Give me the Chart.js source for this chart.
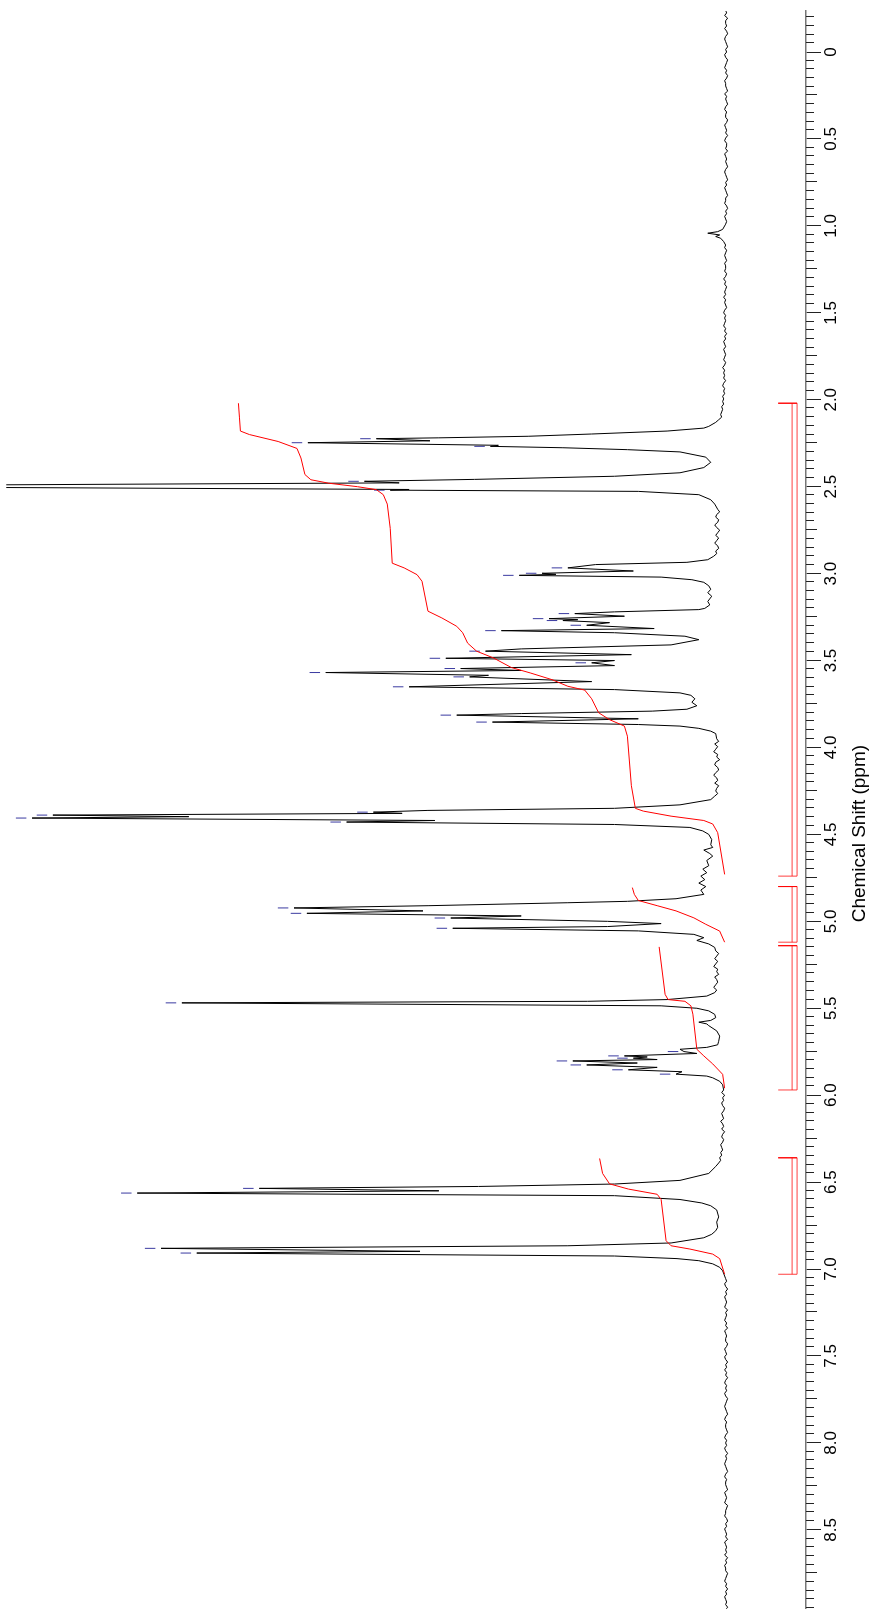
<!DOCTYPE html>
<html>
<head>
<meta charset="utf-8">
<script src="https://cdn.jsdelivr.net/npm/chart.js@4.4.1/dist/chart.umd.min.js"></script>
<style>
  html, body { margin: 0; padding: 0; background: #fff; overflow: hidden; }
  #wrap {
    position: absolute; left: 0; top: 0;
    width: 1615px; height: 873px;
    transform-origin: 0 0;
    transform: translate(0px, 1615px) rotate(-90deg);
  }
  #c { display: block; width: 1615px; height: 873px; }
</style>
</head>
<body>
<div id="wrap"><canvas id="c" width="1615" height="873"></canvas></div>
<script>
// ---- 1H NMR spectrum (DMSO-d6), intensity in plot units above baseline ----

// Axis labelling (ppm)
const majorTickValues = [0, 0.5, 1, 1.5, 2, 2.5, 3, 3.5, 4, 4.5, 5, 5.5, 6, 6.5, 7, 7.5, 8, 8.5];
const majorTickLabels = ["0", "0.5", "1.0", "1.5", "2.0", "2.5", "3.0", "3.5", "4.0", "4.5", "5.0", "5.5", "6.0", "6.5", "7.0", "7.5", "8.0", "8.5"];
const shiftMin = -0.236, shiftMax = 8.954;

// Baseline stretches sampled every 0.015 ppm
const noiseStep = 0.015;
const upfieldNoise = [1,0,2,-1,1,1,0,2,0,-1, 1,2,1,0,-1,1,0,2,1,-1, 0,1,2,0,1,-1,0,2,1,1, 0,-1,2,0,1,0,-1,1,2,0,
                      1,1,-1,0,2,1,0,1,-1,1, 2,0,0,1,-1,2,1,0,1,0, -1,1,2,1,0,-1,1,0,2,1, 0,-1,1,1,2,0,-1,1,0,2, 1,0,1];   // -0.24 .. 0.99
const preAliphaticNoise = [1,2,0,1,2,1,0,2,1,1, 2,0,1,3,1,2,0,1,2,1, 3,1,2,1,0,2,3,1,2,1, 2,3,1,2,0,2,1,3,2,1,
                           3,2,1,2,3,1,2,4,2,3, 2,3,1,3,4,2,3,2,4,3, 4,3,5,4,5,6,5,8,11];                                  // 1.11 .. 2.13
const plateau26 = [9,7,10,11,8,9,12,10,7,9, 11,8,10,12,9,8,11,10,13];                                                    // 2.63 .. 2.90
const plateau40 = [10,8,12,9,11,13,9,10,7,11, 12,9,8,11,13,10,9,12,8,10, 11,9,12];                                        // 3.95 .. 4.28
const plateau53 = [11,8,10,12,9,11,13,9,10,8, 12,10,9,11,13,10,12];                                                      // 5.17 .. 5.41
const plateau62 = [3,5,2,4,3,5,4,2,3,5, 4,3,6,4,3,5,2,4,5,3, 4,6,5,4,6,5,7,6,8];                                          // 5.97 .. 6.39
const downfieldNoise = [2,1,0,2,1,-1,1,0,2,1, 0,1,2,-1,1,0,1,2,0,1, -1,2,1,0,1,1,-1,0,2,1, 0,2,1,-1,1,0,2,0,1,-1,
                        1,2,0,1,0,2,1,-1,0,1, 2,1,0,-1,1,2,0,1,1,0, -1,1,2,0,1,0,2,1,-1,1, 0,1,2,1,0,-1,1,2,0,1,
                        1,0,-1,2,1,0,1,2,-1,0, 1,1,2,0,-1,1,0,2,1,0, 1,-1,2,1,0,1,0,2,-1,1, 0,2,1,1,-1,0,1,2,0,1,
                        -1,1,0,2,1,0,1,-1,1];                                                                            // 7.04 .. 8.96

// Signal regions: [ppm, intensity]; the solvent lines near 2.50 run off scale
const smallBump = [[1.02,4],[1.033,9],[1.042,19],[1.052,7],[1.061,11],[1.071,6],[1.09,3]];
const region22to26 = [[2.153,18],[2.163,23],[2.18,60],[2.197,136],[2.21,200],[2.219,290],[2.224,353],[2.236,299],[2.247,422],[2.262,230],[2.268,238],[2.276,165],[2.287,100],[2.30,47],[2.33,21],[2.36,16],[2.39,23],[2.42,47],[2.44,113],[2.458,254],[2.469,365],[2.478,330],[2.494,900],[2.500,900],[2.516,320],[2.520,339],[2.527,89],[2.546,28],[2.575,16],[2.60,12]];
const region29to39 = [[2.92,19],[2.935,40],[2.948,132],[2.967,160],[2.985,94],[2.998,186],[3.004,172],[3.010,209],[3.02,66],[3.035,35],[3.05,23],[3.07,18],[3.09,16],[3.11,19],[3.13,15],[3.16,19],[3.18,17],[3.20,22],[3.207,28],[3.22,113],[3.23,153],[3.245,103],[3.259,179],[3.265,150],[3.270,165],[3.282,118],[3.297,141],[3.316,73],[3.328,227],[3.34,113],[3.36,42],[3.38,28],[3.41,56],[3.433,207],[3.446,243],[3.466,96],[3.487,283],[3.50,113],[3.513,136],[3.529,113],[3.546,268],[3.557,207],[3.569,404],[3.585,240],[3.594,259],[3.621,136],[3.651,320],[3.667,113],[3.686,47],[3.70,36],[3.72,32],[3.74,35],[3.76,30],[3.78,40],[3.791,75],[3.805,207],[3.814,272],[3.835,89],[3.854,236],[3.868,89],[3.877,47],[3.89,28],[3.906,16],[3.92,11]];
const region43to51 = [[4.30,16],[4.33,47],[4.35,113],[4.362,301],[4.372,356],[4.379,327],[4.389,679],[4.398,542],[4.406,700],[4.42,294],[4.429,383],[4.443,113],[4.46,37],[4.48,24],[4.50,18],[4.53,15],[4.56,16],[4.575,14],[4.59,23],[4.61,17],[4.625,14],[4.65,20],[4.68,18],[4.70,24],[4.72,20],[4.74,26],[4.76,22],[4.78,28],[4.80,21],[4.82,26],[4.845,23],[4.87,51],[4.885,100],[4.893,160],[4.91,300],[4.923,436],[4.94,306],[4.954,423],[4.969,207],[4.981,278],[5.00,120],[5.013,66],[5.03,120],[5.040,276],[5.055,89],[5.075,33],[5.094,23],[5.11,30],[5.13,18],[5.15,12]];
const region54to59 = [[5.43,20],[5.45,60],[5.46,140],[5.469,549],[5.486,66],[5.50,30],[5.515,18],[5.535,12],[5.554,11],[5.57,16],[5.58,28],[5.59,20],[5.60,18],[5.63,10],[5.66,7],[5.69,8],[5.71,9],[5.725,20],[5.736,47],[5.749,43],[5.76,30],[5.774,103],[5.78,80],[5.787,94],[5.795,70],[5.803,155],[5.815,90],[5.826,141],[5.84,70],[5.854,99],[5.865,45],[5.879,51],[5.89,20],[5.90,14],[5.92,7],[5.94,4]];
const region64to70 = [[6.41,11],[6.45,18],[6.49,47],[6.511,113],[6.525,250],[6.536,471],[6.55,290],[6.563,594],[6.578,113],[6.60,47],[6.62,25],[6.636,16],[6.66,10],[6.70,8],[6.73,10],[6.76,9],[6.78,11],[6.80,15],[6.82,23],[6.85,56],[6.866,160],[6.881,570],[6.898,309],[6.908,534],[6.925,113],[6.94,50],[6.952,28],[6.97,14],[6.99,7],[7.01,4]];

// Peak picks: [ppm, peak height]
const peakPicks = [[2.224,353],[2.247,422],[2.268,238],[2.469,365],[2.520,339],[2.967,160],[2.998,186],[3.010,209],[3.23,153],[3.259,179],[3.270,165],[3.297,141],[3.328,227],[3.446,243],[3.487,283],[3.513,136],[3.546,268],[3.569,404],[3.594,259],[3.651,320],[3.814,272],[3.854,236],[4.372,356],[4.389,679],[4.406,700],[4.429,383],[4.923,436],[4.954,423],[4.981,278],[5.040,276],[5.469,549],[5.749,43],[5.774,103],[5.787,94],[5.803,155],[5.826,141],[5.854,99],[5.879,51],[6.536,471],[6.563,594],[6.881,570],[6.908,534]];

// Integral curves: [ppm, integral height]
const integral1 = [[2.02,492],[2.10,491],[2.18,490],[2.20,481],[2.24,452],[2.28,433],[2.335,429],[2.43,425],[2.46,419],[2.48,401],[2.50,372],[2.517,353],[2.546,346],[2.60,342],[2.74,339],[2.94,337],[2.967,325],[3.006,312],[3.044,307],[3.216,301],[3.255,287],[3.303,272],[3.34,266],[3.40,261],[3.446,252],[3.485,235],[3.54,217],[3.571,198],[3.61,176],[3.648,160],[3.67,143],[3.72,136],[3.80,129],[3.84,118],[3.877,103],[3.935,100],[4.22,96],[4.35,92],[4.366,84],[4.395,56],[4.42,23],[4.44,14],[4.49,9],[4.73,2]];
const integral2 = [[4.806,95],[4.845,93],[4.88,89],[4.91,70],[4.94,51],[4.98,33],[5.017,21],[5.056,7],[5.12,2]];
const integral3 = [[5.147,68],[5.42,62],[5.45,59],[5.46,42],[5.486,36],[5.534,34],[5.736,30],[5.774,23],[5.82,14],[5.88,4],[5.96,2]];
const integral4 = [[6.364,128],[6.45,125],[6.51,118],[6.54,99],[6.57,70],[6.60,66],[6.837,61],[6.866,56],[6.885,37],[6.914,14],[6.94,7],[7.03,2]];

// Integration ranges (ppm)
const integralRanges = [[2.02,4.74],[4.80,5.12],[5.14,5.97],[6.36,7.03]];

// ---- build series ----
function onGrid(start, values) {
  return values.map((v, i) => ({ x: +(start + i * noiseStep).toFixed(4), y: v }));
}
const pts = arr => arr.map(([x, y]) => ({ x, y }));

const spectrum = [].concat(
  onGrid(-0.24, upfieldNoise), pts(smallBump), onGrid(1.11, preAliphaticNoise),
  pts(region22to26), onGrid(2.63, plateau26), pts(region29to39), onGrid(3.95, plateau40),
  pts(region43to51), onGrid(5.17, plateau53), pts(region54to59), onGrid(5.97, plateau62),
  pts(region64to70), onGrid(7.04, downfieldNoise)
);

const pickGap = 11;  // marker sits just above each picked peak
const pickMarks = peakPicks.map(([x, h]) => ({ x, y: h + pickGap }));

// bracket levels just above the axis line
const bracketCap = -52, bracketInner = -66, bracketOuter = -71;
const bracketSets = [];
integralRanges.forEach(([a, b]) => {
  bracketSets.push({
    data: [{x: a, y: bracketCap}, {x: a, y: bracketOuter}, {x: b, y: bracketOuter}, {x: b, y: bracketCap}],
    showLine: true, borderColor: 'rgba(255,0,0,0.75)', borderWidth: 1, pointRadius: 0, tension: 0
  });
  bracketSets.push({
    data: [{x: a, y: bracketInner}, {x: b, y: bracketInner}],
    showLine: true, borderColor: 'rgba(255,0,0,0.75)', borderWidth: 1, pointRadius: 0, tension: 0
  });
});

const integralSets = [integral1, integral2, integral3, integral4].map(seg => ({
  data: pts(seg), showLine: true, borderColor: '#ff0000', borderWidth: 1, pointRadius: 0, tension: 0
}));

// minor tick marks every 0.05 ppm, longer at quarter ppm
const minorTicks = {
  id: 'minorTicks',
  afterDraw(chart) {
    const s = chart.scales.x, ctx = chart.ctx;
    ctx.save();
    ctx.strokeStyle = '#222';
    ctx.lineWidth = 1;
    ctx.beginPath();
    for (let k = Math.ceil(s.min / 0.05); k * 0.05 <= s.max + 1e-9; k++) {
      if (k % 10 === 0) continue;
      const len = (k % 5 === 0) ? 11 : 8;
      const px = Math.round(s.getPixelForValue(k * 0.05)) + 0.5;
      ctx.moveTo(px, s.top);
      ctx.lineTo(px, s.top + len);
    }
    ctx.stroke();
    ctx.restore();
  }
};

const fontFamily = "'Liberation Sans', Arial, Helvetica, sans-serif";
// trailing no-break spaces nudge the centred axis title toward higher ppm
const axisTitle = 'Chemical Shift (ppm)' + '\u00A0'.repeat(9);

new Chart(document.getElementById('c'), {
  type: 'scatter',
  data: {
    datasets: [
      ...bracketSets,
      ...integralSets,
      { data: spectrum, showLine: true, borderColor: '#000', borderWidth: 1, pointRadius: 0, tension: 0 },
      { data: pickMarks, showLine: false, pointStyle: 'line', rotation: 90, pointRadius: 5.25,
        pointBorderColor: '#3a3aa0', pointBorderWidth: 1, pointBackgroundColor: '#3a3aa0' }
    ]
  },
  options: {
    responsive: false,
    animation: false,
    devicePixelRatio: 1,
    events: [],
    layout: { padding: { left: 5, right: 11, top: 0, bottom: 0 } },
    plugins: { legend: { display: false }, tooltip: { enabled: false }, title: { display: false } },
    scales: {
      x: {
        type: 'linear', position: 'bottom', reverse: true,
        min: shiftMin, max: shiftMax,
        afterBuildTicks: s => { s.ticks = majorTickValues.map(v => ({ value: v })); },
        afterFit: s => { s.height = 67; },
        ticks: {
          autoSkip: false, maxRotation: 0, minRotation: 0, padding: 0,
          color: '#000', font: { family: fontFamily, size: 17 },
          callback: v => majorTickLabels[majorTickValues.indexOf(v)]
        },
        grid: { drawOnChartArea: false, drawTicks: true, tickLength: 15, tickColor: '#222', color: '#222', lineWidth: 1 },
        border: { display: true, color: '#777', width: 1.5 },
        title: {
          display: true, text: axisTitle, color: '#000',
          font: { family: fontFamily, size: 19 }, padding: { top: 0, bottom: 2 }
        }
      },
      y: { type: 'linear', display: false, min: -80, max: 726 }
    }
  },
  plugins: [minorTicks]
});
</script>
</body>
</html>
